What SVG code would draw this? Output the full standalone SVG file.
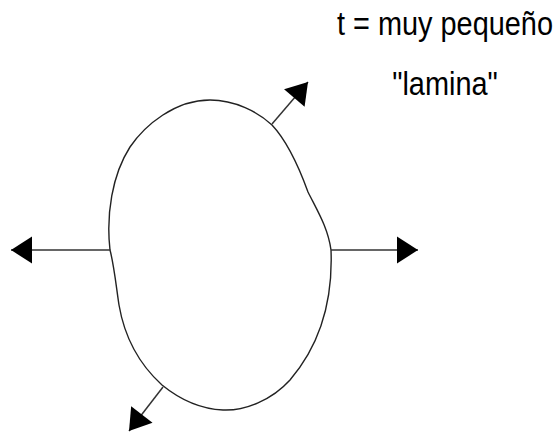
<svg xmlns="http://www.w3.org/2000/svg" width="559" height="432" viewBox="0 0 559 432">
<style>
.outline{fill:none;stroke:#222;stroke-width:1.4}
.conn{stroke:#333;stroke-width:1.5;fill:none;marker-end:url(#ah)}
.lbl{font-family:"Liberation Sans",Arial,sans-serif;font-size:34px;fill:#000;text-anchor:middle}
</style>
<defs>
<marker id="ah" markerUnits="userSpaceOnUse" markerWidth="22" markerHeight="28" refX="21" refY="13.5" orient="auto" overflow="visible">
<path d="M0,0 L21,13.5 L0,27 Z" fill="#000"/>
</marker>
</defs>
<rect width="559" height="432" fill="#fff"/>
<g id="lamina">
<path class="outline" d="M210,100 C235,100 258,112 272,125 C288,142 300,170 308,192 C318,212 328,228 331,250 C333,300 320,345 290,380 C272,400 245,411 223,410 C200,409 178,398 162,385 C140,365 125,340 119,305 C116,285 114,265 110,250 C106,215 112,175 130,147 C145,125 175,100 210,100 Z"/>
</g>
<g id="connectors">
<line class="conn" x1="110" y1="250" x2="11" y2="250"/>
<line class="conn" x1="331" y1="250" x2="418" y2="250"/>
<line class="conn" x1="272" y1="124" x2="308" y2="82"/>
<line class="conn" x1="163" y1="387" x2="129" y2="431"/>
</g>
<g id="labels" transform="scale(0.85,1)">
<text class="lbl" x="523.5" y="35">t = muy pequeño</text>
<text class="lbl" x="523.5" y="95">"lamina"</text>
</g>
</svg>
